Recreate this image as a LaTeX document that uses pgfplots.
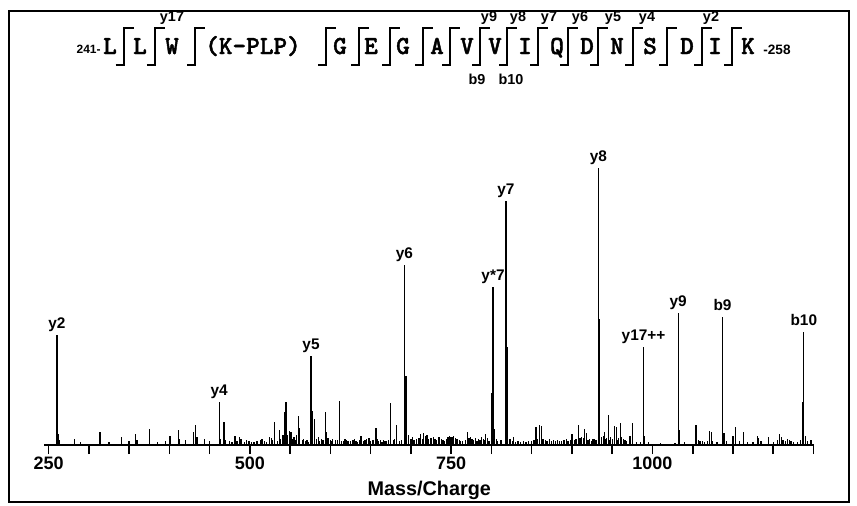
\documentclass[border=0pt]{standalone}
\usepackage{pgfplots}
\pgfplotsset{compat=1.18}
\usepackage{fontspec}
\setmainfont{Liberation Sans}
\newfontfamily\seqfont{lmmonolt10-bold.otf}[FakeBold=1.6]

\pgfplotstableread{
mz int
260.4 110
262 11
264 5
282 6
314 13
341 8
358 11
360 5
375 16
401 9
411 15
413 6
430 13
432.6 20
434.5 8
444 6
462 43
463.5 6
468 23
474.6 4
481.5 9
487 8
489 6
493 3
499 4
505 3
509 4
513 5
518 4
521 3
524 8
527 7
531 23
534 4
536.6 15
541 10
543 33
545 43
547 10
549 14
551 13
553 6
555 8
557 5
560.6 29
562 17
565 5
569 4
573 3
576 89
578 34
580 26
583 6
586 4
589 6
593.7 33
595 13
598 6
600 5
603 6
606 5
611 44
614 4
616 4
620 5
625 4
630 6
634 3
638 9
641 4
645 6
650 4
654 5
656.7 17
660 4
664 3
668 4
672 5
675 42
678 5
682 20
686 4
692 180
694 69
697 10
702 8
707 6
712 11
716 12
720 10
725 7
730 6
735 8
740 5
744 6
746 8
749 7
752 8
755 7
758 6
764 4
770.6 13
774 8
778 5
784 6
788 8
790 6
793 11
797 4
800.5 52
802 158
804 16
808 4
818 244
819.5 98
823 6
827.7 8
833 4
840 4
846 4
855.5 18
859.6 20
862 19
864 6
867 5
872 6
877 5
882 5
887 4
893 6
898 5
900 11
903 5
908 20
910 7
912 8
915.8 16
918 12
922 6
926 6
930 5
933 277
934.5 126
937 8
940.7 13
943 7
945 30
948 8
950 6
952.7 19
955 18
958 7
960 22
962 8
966 5
972 9
975 22
985 3
989 98
990.5 9
1010 2
1028 2
1032 132
1034 15
1054 20
1059 4
1062 4
1068 4
1070.7 14
1073 13
1087 128
1089 12
1100 9
1103 18
1113 13
1130.8 9
1132 7
1144 8
1157.7 11
1160 8
1162 5
1168 6
1170 5
1175 3
1186 43
1188 113
1190 9
1197 5
290 3
325 3
350 4
385 3
395 4
420 5
450 4
470 5
478 3
484 4
496 5
502 3
515 6
528 5
538 6
558 10
567 6
571 5
585 8
591 5
597 7
602 4
609 5
618 6
622 4
628 5
632 4
636 5
643 5
648 7
652 5
658 6
662 5
666 5
670 4
680 6
688 5
700 6
704 5
710 7
714 6
718 9
722 6
728 8
732 5
738 6
742 4
748 9
750 8
753 9
756 6
760 5
762 4
768 5
772 7
776 6
780 7
782 4
786 5
791 5
795 7
806 6
812 5
826 4
830 3
836 3
843 3
850 4
853 5
857 6
869 4
875 4
880 4
885 4
890 5
895 4
905 6
914 7
920 5
924 4
928 6
939 9
942 6
947 5
953 6
957 5
964 6
968 4
980 3
995 3
1040 3
1057 5
1065 3
1075 4
1080 3
1092 4
1108 4
1118 3
1125 3
1135 4
1150 3
1155 5
1165 4
1172 4
1180 3
1184 5
1193 4
}\spectrum

\pgfplotstableread{
mz int lab
260.4 110 y2
462 43 y4
576 89 y5
692 180 y6
802 158 y*7
818 244 y7
933 277 y8
989 98 y17++
1032 132 y9
1087 128 b9
1188 113 b10
}\ions

\begin{document}
\begin{tikzpicture}[x=0.5pt,y=0.5pt,
  seq/.style={font=\seqfont\fontsize{13}{14}\selectfont, anchor=base, inner sep=0pt},
  lab/.style={font=\bfseries\fontsize{7.2}{8}\selectfont, anchor=base, inner sep=0pt}]
\path (0,0) rectangle (857,504);
\draw[line width=1pt] (8.5,2.5) rectangle (849,493);

\begin{axis}[
  at={(55,59)}, anchor=south west,
  scale only axis, width=385pt, height=150pt,
  xmin=244.7, xmax=1201, ymin=0, ymax=300,
  axis x line=bottom, axis y line=none,
  axis line style={-, line width=0.8pt},
  xtick={250,500,750,1000},
  minor xtick={300,350,400,450,550,600,650,700,800,850,900,950,1050,1100,1150,1200},
  tick align=outside, major tick length=4.5pt, minor tick length=4.5pt,
  tick style={black, line width=0.8pt},
  /pgf/number format/.cd, 1000 sep={}, assume math mode=true, /pgfplots/.cd,
  xticklabel style={font=\bfseries\fontsize{9}{10}\selectfont, anchor=north, inner sep=0pt, yshift=-1.25pt},
  xlabel={Mass/Charge},
  xlabel style={font=\bfseries\fontsize{9.9}{11}\selectfont, at={(axis description cs:0.5,0)}, anchor=base, yshift=-25pt},
  clip=false,
]
\addplot[ycomb, black, line width=0.65pt, mark=none] table[x=mz, y=int] {\spectrum};
\addplot[draw=none, mark=none, nodes near coords, point meta=explicit symbolic,
  nodes near coords style={anchor=base, yshift=3.5pt, inner sep=0pt, font=\bfseries\fontsize{7.7}{8}\selectfont}]
  table[x=mz, y=int, meta=lab] {\ions};
\end{axis}

% fragment brackets
\foreach \v in {123.6,154.8,195,326,359,390,423,450,480,507,538,568,598,633,667,702,732}
  \draw[line width=1pt, line join=miter] (\v-8,439) -- (\v,439) -- (\v,476) -- (\v+10,476);

\node[font=\bfseries\fontsize{6}{7}\selectfont, anchor=base east, inner sep=0pt] at (101,451) {241-};
\node[seq] at (110,450) {L};
\node[seq] at (140,450) {L};
\node[seq] at (172,450) {W};
\node[seq] at (253,450) {(K\char"2013PLP)};
\node[seq] at (340,450) {G};
\node[seq] at (371,450) {E};
\node[seq] at (403,450) {G};
\node[seq] at (437,450) {A};
\node[seq] at (467,450) {V};
\node[seq] at (495,450) {V};
\node[seq] at (525,450) {I};
\node[seq] at (557,450) {Q};
\node[seq] at (587,450) {D};
\node[seq] at (617,450) {N};
\node[seq] at (650,450) {S};
\node[seq] at (687,450) {D};
\node[seq] at (715,450) {I};
\node[seq] at (748,450) {K};
\node[font=\bfseries\fontsize{6.8}{8}\selectfont, anchor=base west, inner sep=0pt] at (763,450) {-258};

\node[lab] at (172,483) {y17};
\node[lab] at (489,483) {y9};
\node[lab] at (518,483) {y8};
\node[lab] at (549,483) {y7};
\node[lab] at (580,483) {y6};
\node[lab] at (613,483) {y5};
\node[lab] at (647,483) {y4};
\node[lab] at (711,483) {y2};
\node[lab] at (477,420) {b9};
\node[lab] at (511,420) {b10};
\end{tikzpicture}
\end{document}
